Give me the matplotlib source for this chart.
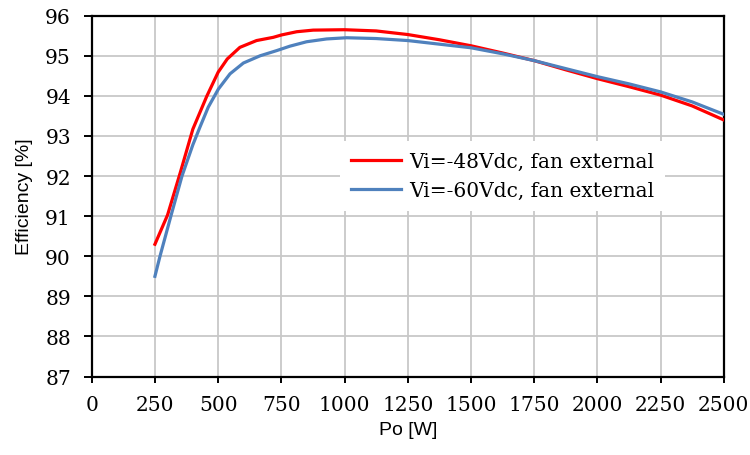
import matplotlib
matplotlib.use("Agg")
import matplotlib.pyplot as plt

# output power [W] and efficiency [%], Vi=-48Vdc
po_48 = [250, 300, 350, 400, 455, 500, 536, 586, 652, 718, 751, 811, 876, 1000,
         1125, 1250, 1375, 1500, 1625, 1750, 1875, 2000, 2125, 2250, 2375, 2500]
eff_48 = [90.3, 91.03, 92.08, 93.17, 93.99, 94.59, 94.92, 95.21, 95.38, 95.46, 95.52, 95.6, 95.64, 95.65,
          95.62, 95.53, 95.4, 95.25, 95.07, 94.88, 94.65, 94.43, 94.23, 94.02, 93.75, 93.4]

# output power [W] and efficiency [%], Vi=-60Vdc
po_60 = [250, 270, 313, 357, 400, 428, 461, 501, 547, 600, 666, 732, 784, 850, 929, 1008,
         1125, 1250, 1375, 1500, 1625, 1750, 1875, 2000, 2125, 2250, 2375, 2500]
eff_60 = [89.5, 90.0, 91.0, 92.0, 92.78, 93.22, 93.72, 94.17, 94.55, 94.82, 95.0, 95.13, 95.24, 95.35, 95.42, 95.45,
          95.43, 95.38, 95.29, 95.2, 95.05, 94.88, 94.68, 94.48, 94.3, 94.1, 93.85, 93.54]

labels = ["Vi=-48Vdc, fan external", "Vi=-60Vdc, fan external"]
x_ticks = list(range(0, 2501, 250))
y_ticks = list(range(87, 97))

fig = plt.figure(figsize=(7.5, 4.56), dpi=100)
ax = fig.add_axes([0.1223, 0.172, 0.8427, 0.7914])

ax.plot(po_48, eff_48, color="#FF0000", lw=2.3, label=labels[0], zorder=3)
ax.plot(po_60, eff_60, color="#4F81BD", lw=2.3, label=labels[1], zorder=3)

ax.set_xlim(0, 2500)
ax.set_ylim(87, 96)
ax.set_xticks(x_ticks)
ax.set_yticks(y_ticks)
ax.grid(True, color="#C8C8C8", lw=1.3)
ax.set_axisbelow(True)

for s in ax.spines.values():
    s.set_color("black")
    s.set_linewidth(1.6)

ax.tick_params(axis="both", direction="out", color="black", width=1.4,
               labelsize=14.5, labelfontfamily="DejaVu Serif")
ax.tick_params(axis="x", length=4.5, pad=9)
ax.tick_params(axis="y", length=6, pad=9)

ax.set_xlabel("Po [W]", fontsize=14, family="Liberation Sans", labelpad=5)
ax.set_ylabel("Efficiency [%]", fontsize=14, family="Liberation Sans", labelpad=9)

leg = ax.legend(loc="center", bbox_to_anchor=(0.65, 0.556), frameon=True, fancybox=False,
                prop={"family": "DejaVu Serif", "size": 14.5}, handlelength=2.5,
                handletextpad=0.4, borderpad=0.55, labelspacing=0.5, borderaxespad=0)
leg.get_frame().set_edgecolor("none")
leg.get_frame().set_facecolor("white")
leg.get_frame().set_alpha(1)

fig.savefig("out.png", dpi=100)
